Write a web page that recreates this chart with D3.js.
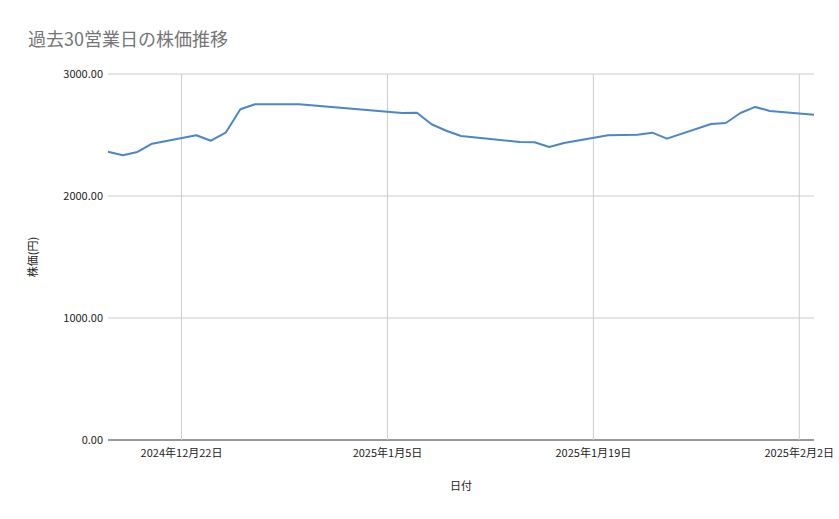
<!DOCTYPE html>
<html><head><meta charset="utf-8">
<script src="https://cdn.jsdelivr.net/npm/d3@7"></script>
<style>body{margin:0;background:#fff;font-family:"Noto Sans CJK JP",Roboto,sans-serif;}</style>
</head><body><div id="graph"></div>
<script>
//Data
const dates = ["2024-12-17","2024-12-18","2024-12-19","2024-12-20","2024-12-23","2024-12-24","2024-12-25","2024-12-26","2024-12-27","2024-12-30",
  "2025-01-06","2025-01-07","2025-01-08","2025-01-09","2025-01-10","2025-01-14","2025-01-15","2025-01-16","2025-01-17","2025-01-20",
  "2025-01-21","2025-01-22","2025-01-23","2025-01-24","2025-01-27","2025-01-28","2025-01-29","2025-01-30","2025-01-31","2025-02-03"];
const prices = [2363,2334,2361,2429,2498,2453,2519,2711,2752,2752,
  2680,2683,2588,2535,2492,2443,2440,2402,2434,2498,
  2500,2502,2519,2470,2590,2598,2680,2730,2697,2666];
const xTicks = ["2024-12-22","2025-01-05","2025-01-19","2025-02-02"];
const yTicks = [0,1000,2000,3000];

const W = 839, H = 519;
const parse = d3.timeParse("%Y-%m-%d");
const data = dates.map((d,i) => ({date: parse(d), price: prices[i]}));

const x = d3.scaleTime().domain([parse("2024-12-17"), parse("2025-02-03")]).range([108, 814]);
const y = d3.scaleLinear().domain([0,3000]).range([440, 74]);

const svg = d3.select("#graph").append("svg").attr("width", W).attr("height", H);

//Title
svg.append("text").attr("x", 28).attr("y", 46).text("過去30営業日の株価推移")
   .attr("fill", "#757575").style("font-size", "18px");

//Grid
svg.append("g").selectAll("line").data(yTicks).enter().append("line")
   .attr("x1", 108).attr("x2", 814).attr("y1", d => y(d)).attr("y2", d => y(d))
   .attr("stroke", d => d === 0 ? "#333" : "#ccc").attr("stroke-width", 1);
svg.append("g").selectAll("line").data(xTicks).enter().append("line")
   .attr("x1", d => x(parse(d))).attr("x2", d => x(parse(d))).attr("y1", 74).attr("y2", 440)
   .attr("stroke", "#ccc");

//Y labels
svg.append("g").selectAll("text").data(yTicks).enter().append("text")
   .attr("x", 103).attr("y", d => y(d) + 4).attr("text-anchor", "end")
   .style("font-size", "11px").attr("fill", "#222").text(d3.format(".2f"));

//X labels
const fmt = d3.timeFormat("%Y年%-m月%-d日");
svg.append("g").selectAll("text").data(xTicks).enter().append("text")
   .attr("x", d => x(parse(d))).attr("y", 457).attr("text-anchor", "middle")
   .style("font-size", "11px").attr("fill", "#222").text(d => fmt(parse(d)));

//Axis titles
svg.append("text").attr("x", 461).attr("y", 490).attr("text-anchor", "middle")
   .style("font-size", "11px").attr("fill", "#222").text("日付");
svg.append("text").attr("transform", "translate(37,257) rotate(-90)").attr("text-anchor", "middle")
   .style("font-size", "11px").attr("fill", "#222").text("株価(円)");

//Line
const line = d3.line().x(d => x(d.date)).y(d => y(d.price));
svg.append("path").datum(data).attr("d", line).attr("fill", "none")
   .attr("stroke", "#4a86c8").attr("stroke-width", 2).attr("stroke-linejoin", "round");
</script></body></html>
